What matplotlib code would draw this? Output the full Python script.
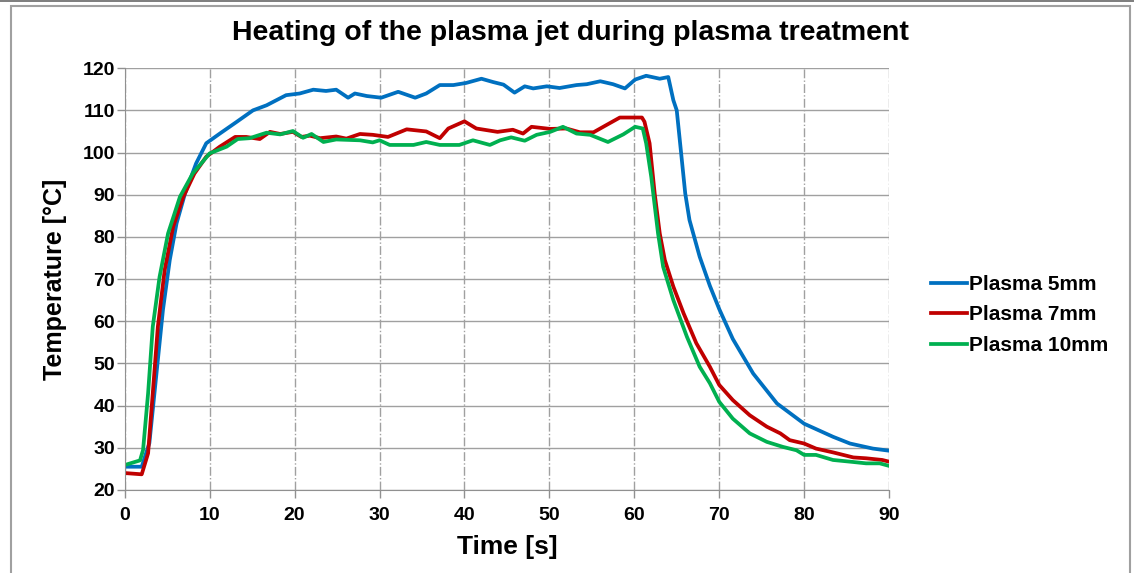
import matplotlib.pyplot as plt
from matplotlib.patches import Rectangle

# Время [s] и температура [°C] для трёх расстояний
t5 = [0, 2, 2.9, 3.7, 4.5, 5.3, 6.1, 7.1, 8.4, 9.6, 11.2, 13.2, 15.1, 16.7, 19.0, 20.6, 22.2,
      23.7, 24.9, 26.3, 27.1, 28.5, 30.2, 32.2, 34.2, 35.5, 37.1, 38.7, 40.2, 42.0, 43.4, 44.6,
      45.9, 47.1, 48.1, 49.7, 51.2, 53.2, 54.4, 56.0, 57.5, 58.9, 60.1, 61.4, 63.0, 64.0, 64.6,
      65.0, 65.6, 66.0, 66.5, 67.7, 68.9, 70.0, 71.6, 74.0, 76.8, 80.0, 83.4, 85.4, 88.1, 90]
T5 = [25.5, 25.5, 31.1, 46.9, 62.7, 74.5, 83.2, 90.3, 97.4, 102.2, 104.5, 107.3, 110.0, 111.2,
      113.6, 114.0, 114.9, 114.6, 114.9, 113.0, 114.0, 113.4, 113.0, 114.4, 113.0, 114.0, 116.0,
      116.0, 116.5, 117.5, 116.7, 116.1, 114.2, 115.7, 115.2, 115.7, 115.3, 116.0, 116.2, 116.9,
      116.2, 115.2, 117.3, 118.2, 117.5, 117.9, 112.4, 110.0, 98.2, 90.3, 84.0, 75.3, 68.4, 62.9,
      55.8, 47.6, 40.5, 35.7, 32.6, 31.0, 29.8, 29.3]

t7 = [0, 2, 2.75, 3.3, 3.9, 4.7, 5.7, 6.9, 8.2, 9.6, 11.2, 13.0, 14.3, 15.9, 17.1, 18.3, 19.8,
      20.8, 21.8, 23.0, 24.9, 26.1, 27.7, 29.2, 31.0, 33.2, 35.5, 37.1, 38.1, 40.0, 41.4, 43.9,
      45.7, 46.9, 47.9, 50.1, 52.0, 53.6, 55.2, 56.7, 58.3, 60.9, 61.2, 61.8, 62.4, 63.0, 63.6,
      64.6, 65.8, 67.3, 68.9, 70.0, 71.6, 73.6, 75.6, 77.2, 78.3, 80.0, 81.4, 83.4, 85.8, 87.3,
      89.2, 90]
T7 = [24.0, 23.7, 28.7, 42.9, 58.7, 72.1, 82.4, 89.5, 95.0, 99.0, 101.4, 103.7, 103.7, 103.2,
      104.9, 104.4, 104.9, 103.7, 104.0, 103.4, 103.8, 103.3, 104.4, 104.2, 103.7, 105.5, 105.0,
      103.4, 105.7, 107.4, 105.7, 104.9, 105.4, 104.5, 106.1, 105.6, 105.7, 104.8, 104.8, 106.5,
      108.3, 108.3, 107.3, 102.2, 90.3, 80.8, 74.5, 68.2, 61.9, 54.8, 49.2, 44.9, 41.3, 37.7,
      35.0, 33.4, 31.8, 31.0, 29.8, 28.9, 27.7, 27.5, 27.1, 26.7]

t10 = [0, 1.8, 2.16, 2.75, 3.3, 4.1, 5.1, 6.5, 8.0, 10.0, 12.0, 13.3, 14.7, 16.7, 18.3, 19.8,
       21.0, 22.0, 23.4, 24.9, 27.7, 29.2, 30.0, 31.2, 34.0, 35.5, 37.1, 39.4, 41.0, 43.0, 44.2,
       45.5, 47.1, 48.5, 50.1, 51.6, 53.2, 54.8, 56.9, 58.7, 60.1, 61.0, 61.4, 62.0, 62.8, 63.4,
       64.6, 66.2, 67.7, 68.9, 70.0, 71.6, 73.6, 75.6, 77.5, 79.1, 80.0, 81.4, 83.4, 85.4, 87.3,
       88.9, 90]
T10 = [25.9, 27.0, 29.5, 42.9, 58.7, 70.5, 80.8, 89.5, 95.0, 99.8, 101.4, 103.2, 103.4, 104.7,
       104.3, 105.1, 103.5, 104.4, 102.5, 103.1, 102.9, 102.4, 102.9, 101.8, 101.8, 102.5, 101.8,
       101.8, 102.9, 101.8, 102.9, 103.6, 102.8, 104.2, 104.9, 106.1, 104.5, 104.2, 102.5, 104.3,
       106.1, 105.7, 102.2, 94.2, 80.8, 72.9, 65.0, 56.3, 49.2, 45.3, 40.9, 36.9, 33.4, 31.4,
       30.2, 29.4, 28.3, 28.3, 27.1, 26.7, 26.3, 26.3, 25.7]

labels = ['Plasma 5mm', 'Plasma 7mm', 'Plasma 10mm']
colors = ['#0070C0', '#C00000', '#00B050']

plt.rcParams['font.family'] = ['Liberation Sans', 'DejaVu Sans']
plt.rcParams['font.weight'] = 'bold'

fig = plt.figure(figsize=(11.34, 5.73), dpi=100)
ax = fig.add_axes([0.110, 0.145, 0.674, 0.736])

# рамка вокруг диаграммы
fig.patches.append(Rectangle((11 / 1134, -0.01), 1119 / 1134, 1 - 6 / 573 + 0.01,
                             transform=fig.transFigure, fill=False,
                             edgecolor='#A0A0A0', linewidth=1.5))
fig.patches.append(Rectangle((0, 1 - 2 / 573), 1, 2 / 573, transform=fig.transFigure,
                             color='#808080', linewidth=0))

for tt, yy, lab, c in zip([t5, t7, t10], [T5, T7, T10], labels, colors):
    ax.plot(tt, yy, color=c, linewidth=2.7, label=lab)

ax.set_xlim(0, 90)
ax.set_ylim(20, 120)
ax.set_xticks(range(0, 91, 10))
ax.set_yticks(range(20, 121, 10))
ax.grid(True, axis='y', color='#A0A0A0', linewidth=1, linestyle='-')
ax.grid(True, axis='x', color='#A0A0A0', linewidth=1, linestyle='-.')
ax.set_axisbelow(True)
for s in ['top', 'right']:
    ax.spines[s].set_visible(False)
for s in ['left', 'bottom']:
    ax.spines[s].set_color('#909090')
ax.tick_params(direction='out', length=6, color='#909090', labelsize=14, width=1)
ax.tick_params(axis='y', pad=1)
ax.tick_params(axis='x', pad=6)

fig.text(0.503, 1 - 33 / 573, 'Heating of the plasma jet during plasma treatment',
         fontsize=20.5, fontweight='bold', ha='center', va='center')
ax.set_xlabel('Time [s]', fontsize=19, fontweight='bold', labelpad=8)
ax.set_ylabel('Temperature [°C]', fontsize=18, fontweight='bold', labelpad=11)

ax.legend(loc='center left', bbox_to_anchor=(1.03, 0.415), frameon=False,
          handlelength=1.75, handletextpad=0.1, labelspacing=0.55,
          prop={'weight': 'bold', 'size': 15})

fig.savefig('out.png', dpi=100)
